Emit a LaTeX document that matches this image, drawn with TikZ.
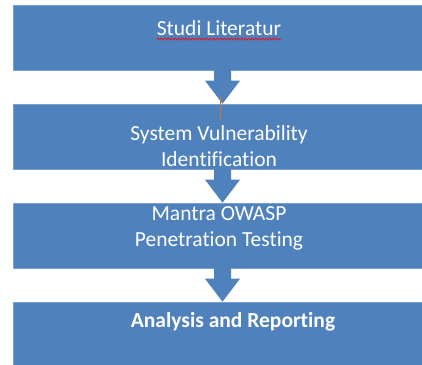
\documentclass[tikz,border=0pt]{standalone}
\usepackage{fontspec}
\setmainfont{Carlito}[Ligatures=NoCommon]
\usetikzlibrary{calc,decorations.pathmorphing}
\definecolor{boxblue}{RGB}{79,129,189}
\definecolor{edgeblue}{RGB}{120,160,210}
\definecolor{tickorange}{RGB}{196,120,50}
\tikzset{
  x=1pt,y=1pt,
  stagebox/.style={rectangle,fill=boxblue,draw=edgeblue,line width=0.6pt,minimum width=412pt,minimum height=65pt,inner sep=0pt},
  stagetext/.style={text=white,font=\fontsize{21.5}{26}\selectfont,align=center,inner sep=0pt,anchor=base},
  arrowfill/.style={fill=boxblue}
}
\newcommand\blockarrow[2]{%
  \fill[arrowfill] ($(#1.south -| ax)+(-8.5,0.3)$) -- ($(#1.south -| ax)+(8.5,0.3)$)
    -- ($(#2.north -| ax)+(8.5,23)$) -- ($(#2.north -| ax)+(17.5,23)$)
    -- (#2.north -| ax) -- ($(#2.north -| ax)+(-17.5,23)$)
    -- ($(#2.north -| ax)+(-8.5,23)$) -- cycle;}
\begin{document}
\begin{tikzpicture}
\useasboundingbox (0,0) rectangle (422,-364);
\coordinate (ax) at (222.5,0);
\node[stagebox] (b1) at (219,-37.5) {};
\node[stagebox] (b2) at (219,-136.5) {};
\node[stagebox] (b3) at (219,-235.5) {};
\node[stagebox] (b4) at (219,-334.5) {};
\blockarrow{b1}{b2}
\blockarrow{b2}{b3}
\blockarrow{b3}{b4}
\node[stagetext] (t1) at (219,-35) {Studi Literatur};
\node[stagetext] (t2) at (219,-166.7) {System Vulnerability\\Identification};
\node[stagetext] (t3) at (219,-246.7) {Mantra OWASP\\Penetration Testing};
\node[stagetext,font=\fontsize{21.5}{26}\selectfont\bfseries] (t4) at (233,-327.3) {Analysis and Reporting};
\draw[red,line width=0.6pt,decorate,decoration={snake,amplitude=1.1pt,segment length=3.5pt}]
  ($(t1.base west)+(0,-4)$) -- ($(t1.base east)+(0,-4)$);
\coordinate (o1) at (220,-96);
\coordinate (o2) at (220,-120);
\draw[tickorange,line width=0.8pt] (o1) -- (o2);
\end{tikzpicture}
\end{document}
